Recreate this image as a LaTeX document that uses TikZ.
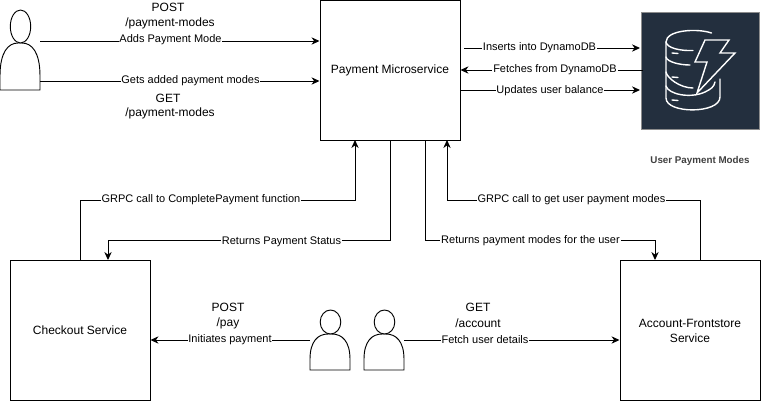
\documentclass[tikz,border=0pt]{standalone}
\usepackage{fontspec}
\setmainfont{Liberation Sans}
\usetikzlibrary{arrows.meta}
\definecolor{awsdark}{HTML}{232F3E}
\tikzset{
  box/.style={draw=black,line width=0.75pt,minimum width=105pt,minimum height=105pt,inner sep=2pt,align=center,font=\fontsize{9}{11.2}\selectfont},
  conn/.style={draw=black,line width=0.75pt,-{Stealth[length=6pt,width=5.5pt]}},
  lab/.style={fill=white,inner sep=0.6pt,font=\fontsize{8.25}{10}\selectfont},
  txt/.style={inner sep=0pt,font=\fontsize{9}{11}\selectfont},
  persona/.style={inner sep=0pt,minimum width=30pt,minimum height=27pt},
  ico/.style={draw=white,line width=1.05pt,line cap=round,line join=miter},
  headline/.style={line width=0.7pt,fill=white},
}
\newcommand{\personshape}[3]{%
  \draw[headline] (#1,#2+#3) -- (#1,#2+0.7*#3) .. controls (#1,#2+0.2*#3) and (#1+8,#2) .. (#1+18,#2)
     -- (#1+22,#2) .. controls (#1+32,#2) and (#1+40,#2+0.2*#3) .. (#1+40,#2+0.7*#3) -- (#1+40,#2+#3) -- cycle;
}
\begin{document}
\begin{tikzpicture}[x=0.75pt,y=-0.75pt]
\useasboundingbox (0,0) rectangle (761,401);
% boxes
\node[box] (pay) at (390,70) {Payment Microservice};
\node[box] (chk) at (80,330.5) {Checkout Service};
\node[box] (acc) at (690,330.5) {Account-Frontstore\\Service};
% dynamo
\node[fill=awsdark,draw=black!45,line width=0.5pt,minimum width=88.5pt,minimum height=88pt,inner sep=0pt] (db) at (700.3,70.5) {};
\begin{scope}[ico]
  \draw (711.5,33) .. controls (697,28) and (666,30) .. (666,42) -- (666,98)
     .. controls (666,114) and (720,114) .. (720,97) -- (720,79);
  \draw (666,42) .. controls (667,48) and (680,51) .. (693,50.5);
  \draw (666,57) .. controls (667,62) and (680,65) .. (690,65);
  \draw (666,72) .. controls (667,78) and (680,88) .. (693,88);
  \draw (666,86) .. controls (668,94) and (690,99) .. (705,92) .. controls (711,89) and (714,87) .. (715,82);
  \draw (672,53) -- (678,53.5);
  \draw (672,77) -- (678,77.5);
  \draw (672,100) -- (678,100.5);
  \draw (705,40) -- (729,40) -- (720,53) -- (735,53) -- (697,93) -- (707,62) -- (695,62) -- cycle;
\end{scope}
\node[inner sep=0pt,text=black!75,font=\bfseries\fontsize{7.35}{9}\selectfont] (dbl) at (700,161) {User Payment Modes};
% persons
\node[persona,minimum height=35pt] (u1) at (20,66.5) {};
\personshape{0}{43}{47}
\draw[headline] (20.5,26.5) ellipse [x radius=10.2,y radius=16.5];
\node[persona] (u2) at (330,352) {};
\personshape{310}{334}{36}
\draw[headline] (330.5,322) ellipse [x radius=10.3,y radius=12];
\node[persona] (u3) at (384,352) {};
\personshape{364}{334}{36}
\draw[headline] (384.5,322) ellipse [x radius=10.3,y radius=12];
% top-left connectors
\coordinate (a1) at (40,41);
\coordinate (b1) at (40,81);
\draw[conn] (u1.east |- a1) -- (pay.west |- a1);
\draw[conn] (u1.east |- b1) -- (pay.west |- b1);
\node[lab] (la) at (170.5,40) {Adds Payment Mode};
\node[lab] (lb) at (190.5,81) {Gets added payment modes};
\node[txt] (t1) at (168,7) {POST};
\node[txt] (t2) at (170,23) {/payment-modes};
\node[txt] (t3) at (168,98) {GET};
\node[txt] (t4) at (170,113) {/payment-modes};
% db connectors
\coordinate (c1) at (464,48);
\coordinate (c2) at (640,48);
\coordinate (d1) at (643,70);
\coordinate (e1) at (460,90);
\coordinate (e2) at (640,90);
\draw[conn] (c1) -- (c2);
\draw[conn] (d1) -- (pay.east |- d1);
\draw[conn] (e1) -- (e2);
\node[lab] (lc) at (539.5,48) {Inserts into DynamoDB};
\node[lab] (ld) at (555,70) {Fetches from DynamoDB};
\node[lab] (le) at (550,91) {Updates user balance};
% lower connectors
\coordinate (f2) at (80,200);
\coordinate (f3) at (355,200);
\coordinate (f4) at (355,140);
\draw[conn] (chk.north) -- (f2) -- (f3) -- (f4);
\coordinate (g2) at (390,240);
\coordinate (g3) at (108,240);
\coordinate (g4) at (108,260);
\draw[conn] (pay.south) -- (g2) -- (g3) -- (g4);
\coordinate (h1) at (425,140);
\coordinate (h2) at (425,240);
\coordinate (h3) at (655,240);
\coordinate (h4) at (655,260);
\draw[conn] (h1) -- (h2) -- (h3) -- (h4);
\coordinate (i1) at (700,260);
\coordinate (i2) at (700,200);
\coordinate (i3) at (447,200);
\coordinate (i4) at (447,140);
\draw[conn] (i1) -- (i2) -- (i3) -- (i4);
\node[lab] (lf) at (201,200) {GRPC call to CompletePayment function};
\node[lab] (lg) at (281.5,242) {Returns Payment Status};
\node[lab] (lh) at (530.5,241) {Returns payment modes for the user};
\node[lab] (li) at (571.5,200) {GRPC call to get user payment modes};
% bottom connectors
\coordinate (j1) at (310,340);
\coordinate (k1) at (404,340);
\draw[conn] (j1) -- (chk.east |- j1);
\draw[conn] (k1) -- (acc.west |- k1);
\node[lab] (lj) at (230,340) {Initiates payment};
\node[lab] (lk) at (485,340) {Fetch user details};
\node[txt] (t5) at (228,307) {POST};
\node[txt] (t6) at (228,323) {/pay};
\node[txt] (t7) at (478,307) {GET};
\node[txt] (t8) at (478,323) {/account};
\end{tikzpicture}
\end{document}
